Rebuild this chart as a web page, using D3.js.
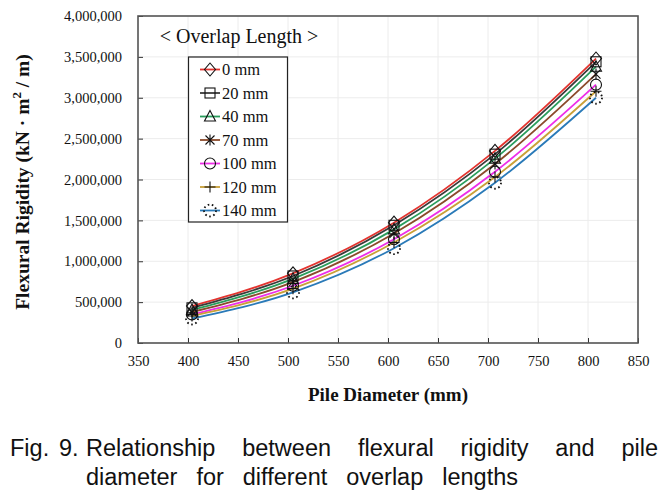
<!DOCTYPE html>
<html><head><meta charset="utf-8">
<script src="https://cdn.jsdelivr.net/npm/d3@7"></script>
<style>html,body{margin:0;padding:0;background:#fff;}svg{display:block;}</style>
</head><body>
<svg id="chart" width="672" height="496"></svg>
<script>
const diameters = [404, 505, 606, 707, 808];
const seriesNames = ["0 mm", "20 mm", "40 mm", "70 mm", "100 mm", "120 mm", "140 mm"];
const s0   = [452000, 852000, 1472000, 2350000, 3480000];
const s20  = [430000, 820000, 1440000, 2310000, 3440000];
const s40  = [405000, 785000, 1390000, 2255000, 3380000];
const s70  = [380000, 745000, 1340000, 2190000, 3290000];
const s100 = [350000, 700000, 1270000, 2095000, 3160000];
const s120 = [330000, 665000, 1230000, 2030000, 3080000];
const s140 = [300000, 620000, 1160000, 1960000, 3000000];
const seriesValues = [s0, s20, s40, s70, s100, s120, s140];
const xTicks = [350, 400, 450, 500, 550, 600, 650, 700, 750, 800, 850];
const yTicks = [0, 500000, 1000000, 1500000, 2000000, 2500000, 3000000, 3500000, 4000000];
const colors = ["#e3342f", "#3a3a3a", "#2a9d5c", "#8b4a2b", "#ee2de8", "#c9a038", "#2a7ab8"];
const markers = ["diamond", "square", "triangle", "asterisk", "circle", "plus", "dotcircle"];

const svg = d3.select("#chart");
const L = 138, R = 638, T = 16, B = 343;
const x = d3.scaleLinear().domain([350, 850]).range([L, R]);
const y = d3.scaleLinear().domain([0, 4000000]).range([B, T]);
const serif = "Liberation Serif, Times New Roman, serif";

// grid
svg.append("g").selectAll("line").data(xTicks).join("line")
  .attr("x1", d => x(d)).attr("x2", d => x(d)).attr("y1", T).attr("y2", B)
  .attr("stroke", "#ececec").attr("stroke-width", 1);
svg.append("g").selectAll("line").data(yTicks).join("line")
  .attr("x1", L).attr("x2", R).attr("y1", d => y(d)).attr("y2", d => y(d))
  .attr("stroke", "#ececec").attr("stroke-width", 1);

// axes
const fmt = d3.format(",");
const xAxis = svg.append("g").attr("transform", `translate(0,${B})`)
  .call(d3.axisBottom(x).tickValues(xTicks).tickSizeInner(-5).tickSizeOuter(0).tickPadding(13));
const yAxis = svg.append("g").attr("transform", `translate(${L},0)`)
  .call(d3.axisLeft(y).tickValues(yTicks).tickFormat(fmt).tickSizeInner(-5).tickSizeOuter(0).tickPadding(16));
[xAxis, yAxis].forEach(a => {
  a.attr("font-family", serif).attr("font-size", 14.5);
  a.select(".domain").remove();
  a.selectAll(".tick line").attr("stroke", "#333").attr("stroke-width", 1);
  a.selectAll(".tick text").style("font-family", serif).attr("fill", "#111");
});
// frame
svg.append("rect").attr("x", L).attr("y", T).attr("width", R - L).attr("height", B - T)
  .attr("fill", "none").attr("stroke", "#555").attr("stroke-width", 1.6);

// lines
const line = d3.line().x((d, i) => x(diameters[i])).y(d => y(d)).curve(d3.curveMonotoneX);
seriesValues.forEach((vals, k) => {
  svg.append("path").attr("d", line(vals)).attr("fill", "none")
    .attr("stroke", colors[k]).attr("stroke-width", 1.8);
});

function drawMarker(g, type, cx, cy) {
  const s = 5.5;
  const st = {stroke: "#111", "stroke-width": 1.1, fill: "none"};
  let el;
  if (type === "diamond") el = g.append("path").attr("d", `M${cx},${cy - s - 1}L${cx + s},${cy}L${cx},${cy + s + 1}L${cx - s},${cy}Z`);
  else if (type === "square") el = g.append("rect").attr("x", cx - s + 0.5).attr("y", cy - s + 0.5).attr("width", 2 * s - 1).attr("height", 2 * s - 1);
  else if (type === "triangle") el = g.append("path").attr("d", `M${cx},${cy - s - 0.5}L${cx + s},${cy + s - 1}L${cx - s},${cy + s - 1}Z`);
  else if (type === "asterisk") el = g.append("path").attr("d", `M${cx - 4.5},${cy - 4.5}L${cx + 4.5},${cy + 4.5}M${cx + 4.5},${cy - 4.5}L${cx - 4.5},${cy + 4.5}M${cx},${cy - 5.5}L${cx},${cy + 5.5}`);
  else if (type === "circle") el = g.append("circle").attr("cx", cx).attr("cy", cy).attr("r", s);
  else if (type === "plus") el = g.append("path").attr("d", `M${cx - 5.5},${cy}L${cx + 5.5},${cy}M${cx},${cy - 5.5}L${cx},${cy + 5.5}`);
  else if (type === "dotcircle") {
    el = g.append("circle").attr("cx", cx).attr("cy", cy).attr("r", s + 0.5).attr("stroke-dasharray", "1.6,2.6");
    st["stroke-width"] = 1.8;
  }
  Object.entries(st).forEach(([k, v]) => el.attr(k, v));
}

// markers
const mg = svg.append("g");
seriesValues.forEach((vals, k) => {
  vals.forEach((v, i) => drawMarker(mg, markers[k], x(diameters[i]), y(v)));
});

// legend
svg.append("text").attr("x", 239).attr("y", 43).attr("text-anchor", "middle")
  .style("font-family", serif).attr("font-size", 20).attr("fill", "#111").text("< Overlap Length >");
svg.append("rect").attr("x", 188.5).attr("y", 57).attr("width", 99).attr("height", 165)
  .attr("fill", "#fff").attr("stroke", "#222").attr("stroke-width", 1.2);
const lg = svg.append("g");
seriesNames.forEach((name, k) => {
  const yy = 69.5 + k * 23.5;
  lg.append("line").attr("x1", 200).attr("x2", 220).attr("y1", yy).attr("y2", yy)
    .attr("stroke", colors[k]).attr("stroke-width", 1.8);
  drawMarker(lg, markers[k], 210, yy);
  lg.append("text").attr("x", 222).attr("y", yy + 5.5).style("font-family", serif)
    .attr("font-size", 16.5).attr("fill", "#111").text(name);
});

// axis titles
svg.append("text").attr("x", 388).attr("y", 401).attr("text-anchor", "middle")
  .style("font-family", serif).attr("font-weight", "bold").attr("font-size", 19).attr("fill", "#111")
  .text("Pile Diameter (mm)");
const yt = svg.append("text").attr("transform", "translate(29,182) rotate(-90)").attr("text-anchor", "middle")
  .style("font-family", serif).attr("font-weight", "bold").attr("font-size", 19.5).attr("fill", "#111");
yt.append("tspan").text("Flexural Rigidity (kN · m");
yt.append("tspan").attr("dy", -8).attr("font-size", 13).text("2");
yt.append("tspan").attr("dy", 8).text(" / m)");

// caption
const capFont = "Liberation Sans, Noto Sans, sans-serif";
const cap = svg.append("g").style("font-family", capFont).attr("font-size", 23.5).attr("fill", "#111");
cap.append("text").attr("x", 10).attr("y", 456).text("Fig.");
cap.append("text").attr("x", 59).attr("y", 456).text("9.");
function justify(words, startX, endX, yy) {
  const nodes = words.map(w => cap.append("text").attr("y", yy).text(w));
  const widths = nodes.map(n => n.node().getComputedTextLength());
  const gap = (endX - startX - d3.sum(widths)) / (words.length - 1);
  let cx = startX;
  nodes.forEach((n, i) => { n.attr("x", cx); cx += widths[i] + gap; });
}
justify(["Relationship", "between", "flexural", "rigidity", "and", "pile"], 86, 658, 456);
justify(["diameter", "for", "different", "overlap", "lengths"], 86, 518, 485);
</script>
</body></html>
